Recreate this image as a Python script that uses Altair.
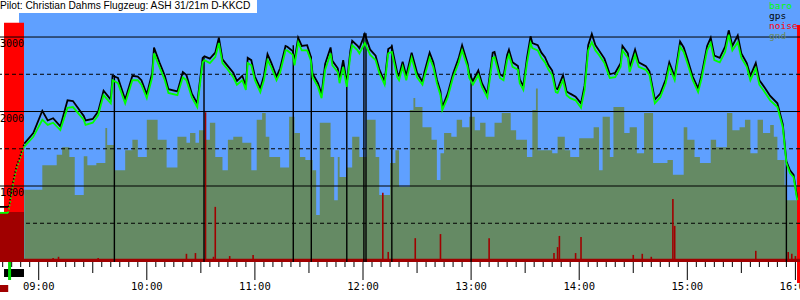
import altair as alt
import pandas as pd


def tmin(s):
    p = [int(v) for v in s.split(":")]
    return p[0] * 60 + p[1] + (p[2] / 60 if len(p) > 2 else 0)


# ------------------------------------------------------------------ data
title_text = "Pilot: Christian Dahms Flugzeug: ASH 31/21m D-KKCD"
legend_names = ["baro", "gps", "noise", "gnd"]
legend_colors = ["#00ff00", "#000000", "#ff0000", "#6b8a5e"]

x_start, x_end = "08:38:31", "16:02:33"
alt_bottom, alt_top = -20, 3497
first_fix = "08:40:45"
tow_end = "08:51:50"
landing = "16:00:54"

grid_solid = [1000, 2000, 3000]
grid_dashed = [500, 1500, 2500]
y_labels = [1000, 2000, 3000]
hour_labels = ["09:00", "10:00", "11:00", "12:00", "13:00", "14:00", "15:00", "16:00"]

pre_time = ["08:38:31", "08:43:00"]
pre_baro = [640, 640]
pre_gps = [720, 720]

tow_time = ["08:43:00", "08:43:40", "08:45:54", "08:47:48", "08:49:06", "08:50:00", "08:51:30", "08:52:00"]
tow_baro = [640, 705, 1040, 1240, 1320, 1390, 1500, 1530]
tow_gps = [720, 750, 1080, 1280, 1360, 1430, 1540, 1570]

baro_time = [
    "08:52", "08:57", "09:02", "09:05", "09:08", "09:12", "09:16", "09:19", "09:25", "09:26",
    "09:30", "09:33", "09:36", "09:40", "09:41", "09:44", "09:48", "09:52", "09:55", "09:57",
    "10:00", "10:03", "10:04", "10:07", "10:10", "10:12", "10:17", "10:20", "10:22", "10:25",
    "10:28", "10:31", "10:32", "10:35", "10:38", "10:40", "10:42", "10:45", "10:48", "10:50",
    "10:53", "10:55", "10:56", "10:58", "11:00", "11:03", "11:05", "11:07", "11:09", "11:12",
    "11:14", "11:17", "11:18", "11:21", "11:22", "11:24", "11:26", "11:29", "11:31", "11:32",
    "11:35", "11:37", "11:39", "11:42", "11:43", "11:46", "11:47", "11:49", "11:51", "11:53",
    "11:54", "11:57", "11:58", "12:01", "12:04", "12:07", "12:09", "12:12", "12:14", "12:16",
    "12:19", "12:20", "12:22", "12:24", "12:27", "12:30", "12:33", "12:34", "12:37", "12:39",
    "12:41", "12:43", "12:44", "12:47", "12:50", "12:53", "12:55", "12:58", "12:59", "13:01",
    "13:04", "13:06", "13:09", "13:12", "13:13", "13:16", "13:18", "13:20", "13:21", "13:23",
    "13:26", "13:27", "13:29", "13:31", "13:33", "13:34", "13:37", "13:39", "13:41", "13:43",
    "13:45", "13:47", "13:48", "13:51", "13:53", "13:55", "13:58", "14:01", "14:03", "14:05",
    "14:07", "14:09", "14:11", "14:14", "14:17", "14:20", "14:23", "14:24", "14:27", "14:28",
    "14:31", "14:33", "14:37", "14:39", "14:42", "14:45", "14:48", "14:50", "14:53", "14:56",
    "14:58", "15:00", "15:03", "15:06", "15:08", "15:11", "15:13", "15:15", "15:18", "15:21",
    "15:23", "15:25", "15:28", "15:30", "15:33", "15:35", "15:38", "15:40", "15:43", "15:46",
    "15:50", "15:53", "15:55", "15:57", "15:59", "16:01",
]
baro_alt = [
    1530, 1660, 1890, 1820, 1850, 1750, 2050, 2060, 1890, 1820,
    1850, 1950, 2220, 2110, 2420, 2380, 2110, 2420, 2420, 2360,
    2180, 2460, 2780, 2600, 2420, 2250, 2220, 2460, 2420, 2190,
    2060, 2660, 2690, 2650, 2730, 2920, 2650, 2560, 2460, 2360,
    2420, 2290, 2650, 2620, 2420, 2260, 2420, 2690, 2600, 2420,
    2520, 2820, 2820, 2760, 2620, 2930, 2820, 2820, 2690, 2460,
    2330, 2180, 2560, 2780, 2620, 2530, 2380, 2600, 2330, 2760,
    2890, 2820, 2780, 2920, 2760, 2690, 2520, 2360, 2780, 2800,
    2460, 2420, 2600, 2420, 2720, 2460, 2360, 2460, 2720, 2600,
    2380, 2220, 2020, 2190, 2460, 2650, 2820, 2600, 2450, 2360,
    2490, 2330, 2190, 2720, 2730, 2450, 2420, 2690, 2760, 2600,
    2560, 2380, 2290, 2650, 2920, 2850, 2820, 2720, 2660, 2560,
    2490, 2260, 2250, 2420, 2220, 2180, 2150, 2050, 2290, 2820,
    2930, 2820, 2760, 2650, 2450, 2460, 2600, 2820, 2720, 2530,
    2760, 2600, 2560, 2490, 2110, 2190, 2380, 2600, 2420, 2870,
    2800, 2650, 2420, 2260, 2450, 2820, 2920, 2690, 2660, 2800,
    3030, 2820, 2930, 2720, 2600, 2420, 2580, 2360, 2260, 2150,
    2060, 1790, 1310, 1170, 1120, 810,
]
gps_alt = [
    1570, 1710, 2010, 1880, 1910, 1800, 2150, 2140, 1940, 1880,
    1900, 2000, 2280, 2160, 2480, 2450, 2160, 2480, 2470, 2420,
    2230, 2520, 2860, 2660, 2480, 2300, 2270, 2530, 2490, 2240,
    2110, 2720, 2740, 2710, 2790, 2990, 2700, 2610, 2520, 2410,
    2480, 2340, 2720, 2690, 2470, 2310, 2480, 2770, 2660, 2470,
    2580, 2880, 2870, 2810, 2680, 2990, 2880, 2890, 2740, 2510,
    2380, 2230, 2640, 2860, 2680, 2580, 2430, 2690, 2380, 2820,
    2950, 2880, 2850, 3040, 2830, 2750, 2570, 2400, 2840, 2870,
    2520, 2480, 2670, 2480, 2790, 2520, 2400, 2520, 2790, 2660,
    2430, 2270, 2060, 2240, 2510, 2710, 2890, 2650, 2510, 2410,
    2550, 2380, 2240, 2790, 2800, 2500, 2470, 2760, 2830, 2660,
    2610, 2430, 2340, 2720, 3010, 2920, 2890, 2790, 2730, 2620,
    2550, 2310, 2300, 2490, 2270, 2240, 2200, 2110, 2350, 2890,
    3040, 2890, 2820, 2710, 2500, 2520, 2650, 2880, 2780, 2590,
    2830, 2660, 2610, 2540, 2160, 2240, 2430, 2660, 2470, 2940,
    2860, 2710, 2470, 2310, 2500, 2880, 2990, 2750, 2720, 2870,
    3090, 2880, 3020, 2780, 2650, 2480, 2650, 2420, 2320, 2210,
    2110, 1830, 1330, 1210, 1150, 840,
]

gnd_time = [
    "08:52", "09:02", "09:10", "09:13", "09:17", "09:20", "09:25", "09:27", "09:32", "09:37",
    "09:38", "09:42", "09:48", "09:52", "09:55", "10:00", "10:06", "10:11", "10:17", "10:22",
    "10:24", "10:27", "10:29", "10:32", "10:35", "10:38", "10:42", "10:45", "10:48", "10:53",
    "10:58", "11:01", "11:04", "11:06", "11:08", "11:14", "11:19", "11:22", "11:25", "11:28",
    "11:32", "11:34", "11:36", "11:42", "11:44", "11:46", "11:47", "11:51", "11:54", "11:58",
    "12:02", "12:07", "12:09", "12:15", "12:18", "12:20", "12:26", "12:28", "12:29", "12:33",
    "12:38", "12:41", "12:43", "12:45", "12:49", "12:52", "12:55", "12:59", "13:02", "13:05",
    "13:08", "13:13", "13:17", "13:22", "13:25", "13:31", "13:34", "13:36", "13:37", "13:45",
    "13:48", "13:52", "13:55", "14:00", "14:08", "14:11", "14:13", "14:17", "14:19", "14:25",
    "14:28", "14:32", "14:36", "14:41", "14:49", "14:52", "14:58", "15:00", "15:04", "15:07",
    "15:13", "15:16", "15:22", "15:25", "15:29", "15:32", "15:35", "15:39", "15:42", "15:46",
    "15:48", "15:50", "15:54", "15:55", "16:02:33",
]
gnd_alt = [
    950, 1280, 1420, 1520, 1390, 880, 1400, 1280, 1310, 1780,
    1550, 1210, 1480, 1620, 1390, 1890, 1620, 1250, 1660, 1580,
    1710, 1580, 1750, 1620, 1850, 1390, 1210, 1620, 1660, 1580,
    1210, 1890, 1980, 1660, 1390, 1250, 1930, 1710, 1390, 1350,
    1210, 610, 1850, 1390, 810, 1390, 1120, 1250, 1660, 1390,
    1890, 1390, 880, 1310, 1480, 990, 2020, 2180, 2060, 1790,
    1620, 1080, 1440, 1710, 1660, 1890, 1790, 1930, 1750, 1850,
    1660, 1850, 1980, 1750, 1620, 1390, 2020, 2310, 1480, 1440,
    1660, 1480, 1390, 1640, 1790, 1210, 1930, 1390, 2060, 1710,
    1790, 1440, 1980, 1310, 1350, 1150, 1790, 1620, 1390, 1310,
    1620, 1520, 1980, 1750, 1790, 1890, 1440, 1890, 1710, 1820,
    1660, 1350, 1010, 810, 810,
]

noise_base_time = ["08:38:31", "08:51:50", "16:02:33"]
noise_base_val = [650, 25, 25]
noise_time = [
    "09:08", "09:11", "09:33", "10:22", "10:27", "10:32:35", "10:37", "10:38", "10:46", "10:59",
    "12:11", "12:14", "12:29", "12:43", "13:10", "13:46", "13:48", "13:49", "13:58", "14:01",
    "14:30", "14:35", "14:40", "14:52", "14:53", "15:38", "15:56", "15:58", "16:00",
]
noise_val = [
    35, 50, 35, 90, 100, 1990, 50, 720, 60, 75,
    910, 115, 300, 355, 300, 100, 180, 330, 100, 315,
    75, 90, 50, 825, 465, 130, 115, 90, 60,
]

event_time = ["09:42", "10:31:45", "11:21:18", "11:31:18", "11:51", "12:00:30", "12:01:40", "12:16", "13:00", "15:55"]
event_top = [2490, 2730, 2890, 2740, 2380, 3050, 3050, 2900, 2510, 1330]

# ------------------------------------------------------------------ frames
main = pd.concat([
    pd.DataFrame({"t": [tmin(s) for s in pre_time], "baro": pre_baro, "gps": pre_gps, "seg": "pre"}),
    pd.DataFrame({"t": [tmin(s) for s in baro_time], "baro": baro_alt, "gps": gps_alt, "seg": "flight"}),
])
tow = pd.DataFrame({"t": [tmin(s) for s in tow_time], "baro": tow_baro, "gps": tow_gps})
gnd = pd.DataFrame({"t": [tmin(s) for s in gnd_time], "v": gnd_alt})
nbase = pd.DataFrame({"t": [tmin(s) for s in noise_base_time], "v": noise_base_val})
noise = pd.DataFrame({"t": [tmin(s) for s in noise_time], "v": noise_val})
events = pd.DataFrame({"t": [tmin(s) for s in event_time], "top": event_top})
one = pd.DataFrame({"a": [0]})

xs = alt.Scale(domain=[tmin(x_start), tmin(x_end)], nice=False, zero=False)
ys = alt.Scale(domain=[alt_bottom, alt_top], nice=False, zero=False)


def X(f):
    return alt.X(f, type="quantitative", scale=xs, axis=None)


def Y(f):
    return alt.Y(f, type="quantitative", scale=ys, axis=None)


def span(t0, t1, a0, a1):
    return pd.DataFrame({"t0": [tmin(t0)], "t1": [tmin(t1)], "a0": [a0], "a1": [a1]})


layers = []
# blue sky background
layers.append(alt.Chart(span(first_fix, x_end, alt_bottom, alt_top)).mark_rect(color="#5fa0ff").encode(
    x=X("t0"), x2="t1", y=Y("a0"), y2="a1"))
# white boxes at top-left
layers.append(alt.Chart(one).mark_rect(color="white").encode(
    x=alt.value(0), x2=alt.value(257), y=alt.value(0), y2=alt.value(13)))
layers.append(alt.Chart(one).mark_rect(color="white").encode(
    x=alt.value(0), x2=alt.value(19), y=alt.value(13), y2=alt.value(23)))
# ground area
layers.append(alt.Chart(gnd).mark_area(interpolate="step-after", color="#658a64").encode(
    x=X("t"), y=Y("v"), y2=alt.datum(alt_bottom)))
# red bands (tow / landing)
layers.append(alt.Chart(span(first_fix, tow_end, 3190, alt_bottom)).mark_rect(color="#ff0000").encode(
    x=X("t0"), x2="t1", y=Y("a0"), y2="a1"))
layers.append(alt.Chart(span(landing, x_end, 3160, alt_bottom)).mark_rect(color="#ff0000").encode(
    x=X("t0"), x2="t1", y=Y("a0"), y2=alt.value(283)))
# grid
layers.append(alt.Chart(pd.DataFrame({"v": grid_solid})).mark_rule(color="black", strokeWidth=1).encode(y=Y("v")))
layers.append(alt.Chart(pd.DataFrame({"v": grid_dashed})).mark_rule(
    color="black", strokeWidth=1, strokeDash=[4, 3]).encode(y=Y("v")))
# noise
layers.append(alt.Chart(nbase).mark_area(interpolate="step-after", color="#a00000").encode(
    x=X("t"), y=Y("v"), y2=alt.datum(alt_bottom)))
layers.append(alt.Chart(noise).mark_rule(color="#a00000", strokeWidth=1.6).encode(
    x=X("t"), y=Y("v"), y2=alt.datum(alt_bottom)))
# event markers
layers.append(alt.Chart(events).mark_rule(color="black", strokeWidth=1.4).encode(
    x=X("t"), y=Y("top"), y2=alt.datum(alt_bottom)))
# gps and baro
layers.append(alt.Chart(main).mark_line(color="black", strokeWidth=1.8).encode(
    x=X("t"), y=Y("gps"), detail="seg:N"))
layers.append(alt.Chart(main).mark_line(color="#00ff00", strokeWidth=1.8).encode(
    x=X("t"), y=Y("baro"), detail="seg:N"))
layers.append(alt.Chart(tow).mark_line(color="black", strokeWidth=1.5, strokeDash=[1.5, 2]).encode(
    x=X("t"), y=Y("gps")))
layers.append(alt.Chart(tow).mark_line(color="#00ff00", strokeWidth=1.5, strokeDash=[1.5, 2]).encode(
    x=X("t"), y=Y("baro")))
# y labels
layers.append(alt.Chart(pd.DataFrame({"v": y_labels, "s": [str(v) for v in y_labels]})).mark_text(
    align="left", baseline="top", dy=2, font="DejaVu Sans Mono", fontSize=10, color="black").encode(
    x=alt.value(0), y=Y("v"), text="s:N"))
# title
layers.append(alt.Chart(one).mark_text(
    text=title_text, align="left", baseline="top", font="Liberation Sans", fontSize=10.2, color="black").encode(
    x=alt.value(0), y=alt.value(1)))
# legend
for i, (name, col) in enumerate(zip(legend_names, legend_colors)):
    layers.append(alt.Chart(one).mark_text(
        text=name, align="left", baseline="top", font="DejaVu Sans Mono", fontSize=9.5, color=col).encode(
        x=alt.value(769), y=alt.value(1 + 10 * i)))

# x axis ticks and labels
tick_all = list(range(520, 965, 5))
minor = pd.DataFrame({"t": [m for m in tick_all if m % 30 != 0]})
medium = pd.DataFrame({"t": [m for m in tick_all if m % 30 == 0 and m % 60 != 0]})
major = pd.DataFrame({"t": [m for m in tick_all if m % 60 == 0]})
layers.append(alt.Chart(minor).mark_rule(color="black", strokeWidth=1).encode(
    x=X("t"), y=alt.value(262), y2=alt.value(267)))
layers.append(alt.Chart(medium).mark_rule(color="black", strokeWidth=1).encode(
    x=X("t"), y=alt.value(262), y2=alt.value(273)))
layers.append(alt.Chart(major).mark_rule(color="black", strokeWidth=1).encode(
    x=X("t"), y=alt.value(262), y2=alt.value(280)))
hl = pd.DataFrame({"t": [tmin(s) for s in hour_labels], "s": hour_labels})
layers.append(alt.Chart(hl).mark_text(
    align="center", baseline="middle", font="DejaVu Sans Mono", fontSize=10.5, color="black").encode(
    x=X("t"), y=alt.value(287), text="s:N"))
# bottom-left markers (tow period, takeoff)
layers.append(alt.Chart(span(first_fix, tow_end, 0, 0)).mark_rect(color="black").encode(
    x=X("t0"), x2="t1", y=alt.value(269), y2=alt.value(277)))
layers.append(alt.Chart(pd.DataFrame({"t": [tmin("08:43:50")]})).mark_rule(color="#00dd00", strokeWidth=3).encode(
    x=X("t"), y=alt.value(262), y2=alt.value(280)))
layers.append(alt.Chart(span(x_start, "08:43:05", 0, 0)).mark_rect(color="#a00000").encode(
    x=X("t0"), x2="t1", y=alt.value(285), y2=alt.value(292)))

chart = alt.layer(*layers).properties(
    width=800, height=262,
    padding={"left": 0, "right": 0, "top": 0, "bottom": 38},
    autosize=alt.AutoSizeParams(type="none"),
    background="white",
).configure_view(stroke=None)

chart.save("out.html", embed_options={"renderer": "svg", "actions": False})
